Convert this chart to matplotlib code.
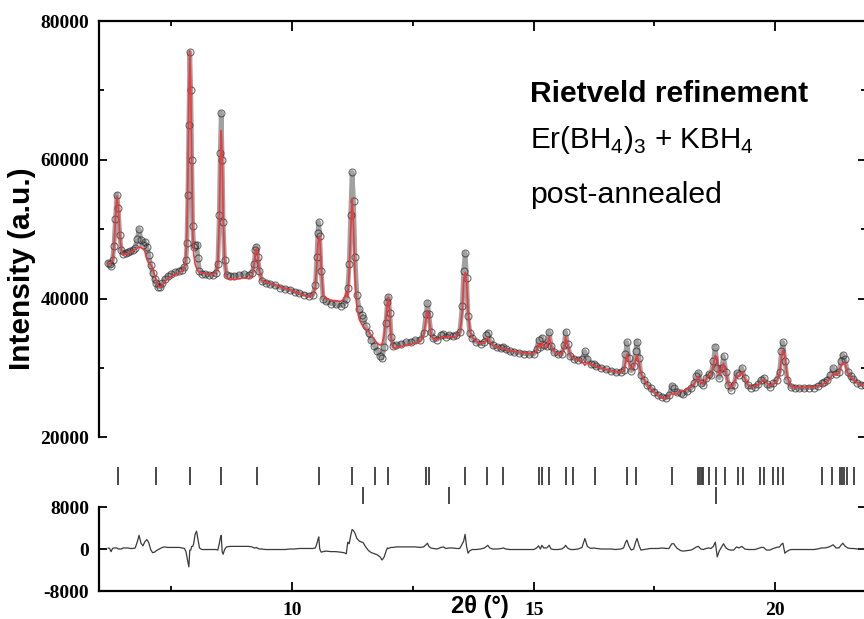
import numpy as np
import matplotlib.pyplot as plt
from matplotlib.ticker import MultipleLocator, FixedLocator

plt.rcParams['font.family'] = ['Liberation Sans', 'DejaVu Sans']
plt.rcParams['mathtext.fontset'] = 'custom'
plt.rcParams['mathtext.rm'] = 'Liberation Sans'
plt.rcParams['axes.unicode_minus'] = False

two_theta = [
    6.19, 6.22, 6.25, 6.28, 6.31, 6.34, 6.37, 6.40, 6.43, 6.46,
    6.50, 6.55, 6.60, 6.65, 6.70, 6.75, 6.79, 6.83, 6.87, 6.91,
    6.95, 6.99, 7.03, 7.07, 7.11, 7.15, 7.19, 7.23, 7.27, 7.31,
    7.36, 7.42, 7.50, 7.58, 7.66, 7.72, 7.77, 7.80, 7.82, 7.84,
    7.86, 7.88, 7.90, 7.92, 7.94, 7.96, 7.99, 8.02, 8.05, 8.08,
    8.13, 8.20, 8.28, 8.36, 8.42, 8.46, 8.49, 8.51, 8.53, 8.55,
    8.57, 8.60, 8.64, 8.72, 8.80, 8.90, 9.00, 9.10, 9.17, 9.21,
    9.24, 9.26, 9.29, 9.32, 9.37, 9.45, 9.55, 9.65, 9.75, 9.85,
    9.95, 10.05, 10.15, 10.25, 10.35, 10.43, 10.48, 10.51, 10.53, 10.55,
    10.57, 10.60, 10.64, 10.70, 10.80, 10.90, 11.00, 11.07, 11.12, 11.15,
    11.18, 11.21, 11.24, 11.27, 11.30, 11.34, 11.39, 11.44, 11.47, 11.52,
    11.58, 11.64, 11.70, 11.76, 11.82, 11.86, 11.90, 11.94, 11.97, 11.99,
    12.02, 12.05, 12.09, 12.15, 12.25, 12.35, 12.45, 12.55, 12.65, 12.72,
    12.77, 12.80, 12.83, 12.87, 12.92, 13.00, 13.08, 13.13, 13.18, 13.25,
    13.32, 13.40, 13.47, 13.52, 13.55, 13.58, 13.61, 13.64, 13.68, 13.73,
    13.80, 13.90, 13.98, 14.02, 14.05, 14.09, 14.15, 14.25, 14.33, 14.37,
    14.42, 14.50, 14.60, 14.70, 14.80, 14.90, 15.00, 15.06, 15.10, 15.14,
    15.17, 15.21, 15.27, 15.32, 15.36, 15.42, 15.50, 15.58, 15.63, 15.66,
    15.70, 15.76, 15.84, 15.92, 16.00, 16.06, 16.11, 16.18, 16.25, 16.30,
    16.40, 16.50, 16.60, 16.70, 16.80, 16.86, 16.90, 16.93, 16.97, 17.02,
    17.07, 17.11, 17.14, 17.18, 17.22, 17.28, 17.35, 17.42, 17.50, 17.58,
    17.66, 17.74, 17.80, 17.86, 17.90, 17.96, 18.04, 18.10, 18.18, 18.26,
    18.32, 18.37, 18.41, 18.46, 18.51, 18.57, 18.62, 18.67, 18.72, 18.76,
    18.80, 18.84, 18.89, 18.93, 18.98, 19.03, 19.08, 19.14, 19.20, 19.25,
    19.31, 19.37, 19.43, 19.50, 19.58, 19.65, 19.71, 19.76, 19.82, 19.89,
    19.96, 20.03, 20.09, 20.13, 20.16, 20.20, 20.25, 20.32, 20.40, 20.50,
    20.60, 20.70, 20.80, 20.88, 20.96, 21.02, 21.08, 21.14, 21.20, 21.26,
    21.32, 21.36, 21.40, 21.44, 21.50, 21.56, 21.62, 21.70, 21.78, 21.86,
]
y_obs = [
    45200, 45000, 44700, 45600, 47600, 51500, 55000, 53000, 49200, 47000,
    46500, 46600, 46700, 46800, 47000, 47300, 48600, 50000, 48500, 47800,
    48200, 47500, 46300, 44800, 43700, 42800, 42200, 41700, 41700, 42200,
    42800, 43200, 43500, 43800, 44000, 44200, 44500, 45500, 48000, 55000,
    65000, 75500, 70000, 60000, 50500, 47500, 47800, 47800, 45800, 44000,
    43600, 43500, 43400, 43400, 43700, 45000, 52000, 61000, 66800, 60000,
    51000, 45500, 43400, 43300, 43300, 43400, 43500, 43400, 43700, 45000,
    47000, 47500, 46000, 44000, 42600, 42300, 42100, 41900, 41600, 41400,
    41300, 41000, 40800, 40600, 40400, 40600, 42000, 46000, 49500, 51000,
    49000, 44000, 40000, 39600, 39300, 39200, 39000, 39200, 40000, 41500,
    45000, 52000, 58200, 54000, 46000, 40500, 38500, 37600, 37200, 36000,
    35000, 34000, 33200, 32500, 31800, 31400, 33000, 36500, 39500, 40300,
    38000, 34500, 33200, 33300, 33500, 33700, 33800, 34000, 34100, 35000,
    37800, 39400, 37800, 35200, 34300, 34100, 34700, 34900, 34500, 34800,
    34600, 34700, 35200, 39000, 44000, 46600, 43000, 37500, 35000, 34300,
    33800, 33500, 33800, 34700, 35100, 34000, 33300, 33000, 32900, 33100,
    32700, 32400, 32300, 32200, 32100, 32000, 32000, 32700, 34000, 33000,
    34400, 33300, 33200, 35200, 33200, 32300, 32000, 32000, 33300, 35200,
    33500, 31700, 31300, 31200, 31300, 32400, 31300, 30600, 30600, 30300,
    30000, 29800, 29600, 29400, 29400, 29700, 32000, 33700, 31500, 29600,
    30300, 32500, 33800, 31500, 29000, 28300, 27600, 27100, 26600, 26100,
    25900, 25700, 26100, 27400, 27200, 26500, 26400, 26300, 26700, 27100,
    27800, 28800, 29300, 27900, 27600, 28500, 29100, 29000, 31000, 33100,
    30000, 28600, 30000, 31700, 29500, 27600, 26900, 27500, 29300, 29000,
    30000, 28500, 27500, 27200, 27300, 27700, 28300, 28600, 27700, 27300,
    27800, 28300, 29500, 32500, 33700, 31000, 28300, 27300, 27200, 27100,
    27100, 27200, 27200, 27400, 27800, 28000, 28300, 29000, 30000, 29200,
    29500, 31000, 31900, 31300, 29500, 28800, 28400, 27900, 27600, 27500,
]
y_calc = [
    45000, 44900, 45200, 45500, 47400, 51300, 54800, 53000, 49200, 47000,
    46300, 46400, 46500, 46700, 46900, 47100, 47300, 47400, 47400, 47200,
    46800, 45700, 45100, 44900, 44400, 43400, 42500, 41800, 41600, 41900,
    42400, 42900, 43200, 43500, 43700, 44000, 44400, 46000, 49500, 57500,
    68400, 75700, 70200, 59500, 50000, 46500, 45000, 44400, 44000, 43800,
    43700, 43600, 43500, 43500, 43800, 45200, 51000, 59000, 64200, 60500,
    52000, 45600, 43000, 42800, 42800, 42900, 43000, 42900, 43300, 44800,
    46800, 47200, 45900, 44000, 42600, 42400, 42200, 42000, 41700, 41500,
    41300, 41000, 40700, 40500, 40300, 40500, 41800, 45000, 47800, 48700,
    49000, 44600, 40500, 40000, 39800, 39700, 39600, 39900, 40900, 40200,
    44000, 49500, 54500, 50500, 43000, 38500, 37000, 36300, 36000, 35600,
    35300, 34700, 34100, 33600, 33300, 33500, 34600, 37000, 39300, 40200,
    37800, 34200, 32900, 32900, 33100, 33300, 33400, 33600, 33800, 34600,
    37000, 38300, 37300, 35000, 34200, 34100, 34400, 34500, 34400, 34600,
    34400, 34600, 35100, 38000, 42500, 43800, 42500, 38300, 35300, 34400,
    33900, 33500, 33600, 34200, 34400, 33800, 33300, 33000, 32800, 32900,
    32700, 32500, 32400, 32300, 32200, 32100, 32100, 32500, 33400, 33000,
    33700, 33100, 33000, 34500, 33200, 32400, 32100, 32000, 33000, 34500,
    33300, 31800, 31400, 31200, 31000, 30400, 30800, 30500, 30400, 30200,
    30000, 29800, 29600, 29500, 29400, 29500, 30800, 32000, 30900, 29800,
    30300, 31200, 31800, 30800, 29200, 28400, 27600, 27000, 26500, 26000,
    25700, 25600, 26000, 26400, 26200, 26300, 26700, 26700, 27000, 27300,
    27700, 28400, 28800, 27900, 27700, 28400, 28900, 28900, 30500, 31800,
    31500, 29000, 29600, 30700, 29300, 27700, 27100, 27700, 28900, 28800,
    29500, 28500, 27600, 27300, 27400, 27600, 28000, 28300, 27900, 27500,
    27700, 28000, 29100, 31600, 32600, 31800, 28700, 27400, 27300, 27200,
    27200, 27300, 27300, 27400, 27600, 27800, 28000, 28500, 29200, 29000,
    29300, 30300, 30800, 30700, 29300, 28700, 28300, 27900, 27600, 27500,
]

# Bragg reflection positions (deg 2theta)
bragg_phase1 = [6.39, 7.17, 7.88, 8.53, 9.27, 10.56, 11.24, 11.71, 11.99,
                12.77, 12.84, 13.58, 14.04, 14.37, 15.10, 15.17, 15.32,
                15.67, 15.81, 16.27, 16.93, 17.12, 17.86, 18.41, 18.44,
                18.48, 18.51, 18.62, 18.77, 18.96, 19.22, 19.34, 19.69,
                19.77, 19.96, 20.05, 20.17, 20.96, 21.17, 21.34, 21.39,
                21.43, 21.48, 21.63]
bragg_phase2 = [11.46, 13.25, 18.77]

tt = np.array(two_theta)
obs = np.array(y_obs)
calc = np.array(y_calc)
diff = obs - calc

fig = plt.figure(figsize=(8.64, 6.19), dpi=100)
W, H = 864.0, 619.0
x0, x1 = 99, 866

ax = fig.add_axes([x0 / W, 1 - 437.5 / H, (x1 - x0) / W, 416.5 / H])
# observed points drawn densely in the original: band + open circles
ax.plot(tt, obs, '-', color='#444444', lw=3.4, alpha=0.5, solid_capstyle='round')
ax.plot(tt, obs, 'o', ms=5, mfc='none', mec='#2e2e2e', mew=0.8, alpha=0.7)
ax.plot(tt, calc, '-', color='#ec3a3f', lw=1.2)
ax.set_xlim(6, 6 + (x1 - x0) / 48.3)
ax.set_ylim(20000, 80000)
ax.spines['bottom'].set_visible(False)
ax.yaxis.set_major_locator(FixedLocator([20000, 40000, 60000, 80000]))
ax.yaxis.set_minor_locator(MultipleLocator(10000))
ax.xaxis.set_major_locator(MultipleLocator(2))
ax.xaxis.set_minor_locator(MultipleLocator(0.5))
ax.tick_params(axis='x', which='both', direction='in', bottom=False, top=True,
               labelbottom=False)
ax.tick_params(axis='x', which='major', length=7, width=1.3)
ax.tick_params(axis='x', which='minor', length=3.5, width=1.3)
ax.tick_params(axis='y', which='both', direction='in', left=True, right=True,
               labelsize=14, pad=7)
ax.tick_params(axis='y', which='major', length=6, width=1.3)
ax.tick_params(axis='y', which='minor', length=3.5, width=1.3)
for s in ax.spines.values():
    s.set_linewidth(1.6)

# Bragg markers
bx = fig.add_axes([x0 / W, 1 - 505 / H, (x1 - x0) / W, 38 / H], sharex=ax)
bx.vlines(bragg_phase1, 1.05, 2.0, color='#3a3a3a', lw=1.3)
bx.vlines(bragg_phase2, 0.05, 0.95, color='#3a3a3a', lw=1.3)
bx.set_ylim(0, 2)
bx.axis('off')

# difference curve
res = fig.add_axes([x0 / W, 1 - 591 / H, (x1 - x0) / W, 84 / H], sharex=ax)
res.plot(tt, diff, '-', color='#3a3a3a', lw=0.9)
res.set_ylim(-8000, 8000)
res.set_yticks([-8000, 0, 8000])
res.spines['top'].set_visible(False)
for s in res.spines.values():
    s.set_linewidth(1.6)
res.xaxis.set_major_locator(FixedLocator([10, 15, 20]))
res.xaxis.set_minor_locator(MultipleLocator(2.5))
res.tick_params(axis='x', which='both', direction='in', top=False, labelsize=14, pad=8)
res.tick_params(axis='x', which='major', length=6.5, width=1.3)
res.tick_params(axis='x', which='minor', length=3.5, width=1.3)
res.tick_params(axis='y', direction='in', left=True, right=True, labelsize=14,
                pad=7, length=6, width=1.3)
ax.set_xlim(6, 6 + (x1 - x0) / 48.3)

for lab in ax.get_yticklabels() + res.get_yticklabels() + res.get_xticklabels():
    lab.set_fontfamily('Liberation Serif')
    lab.set_fontweight('bold')

fig.text(22 / W, 1 - 269 / H, 'Intensity (a.u.)', rotation=90, ha='center',
         va='center', fontsize=21.5, fontweight='bold')
fig.text(480 / W, 1 - 607 / H, '2θ (°)', ha='center', va='center',
         fontsize=17, fontweight='bold')

fig.text(530 / W, 1 - 102 / H, 'Rietveld refinement', fontsize=21.6,
         fontweight='bold', va='baseline')
fig.text(530 / W, 1 - 148 / H, r'Er(BH$_4$)$_3$ + KBH$_4$', fontsize=21.3,
         va='baseline')
fig.text(530 / W, 1 - 203 / H, 'post-annealed', fontsize=21.8, va='baseline')

fig.savefig('out.png', dpi=100)
